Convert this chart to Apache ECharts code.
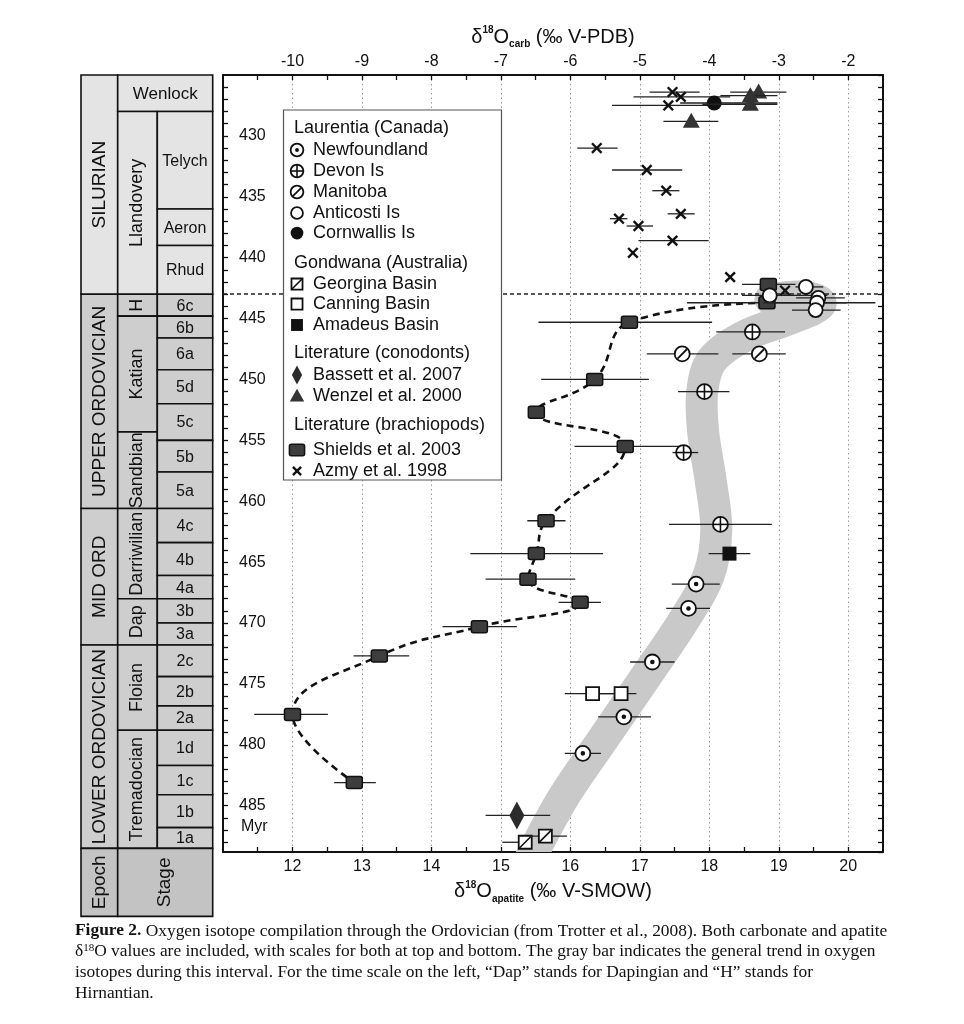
<!DOCTYPE html>
<html><head><meta charset="utf-8">
<script src="https://cdn.jsdelivr.net/npm/echarts/dist/echarts.min.js"></script>
<style>html,body{margin:0;padding:0;background:#fff}#c{width:964px;height:1024px}</style>
</head><body><div id="c"></div>
<script>
// ================= DATA =================
const ageTicks = [430,435,440,445,450,455,460,465,470,475,480,485];
const apatiteTicks = [12,13,14,15,16,17,18,19,20];
const carbTicks = [-10,-9,-8,-7,-6,-5,-4,-3,-2];

// Stratigraphic column (ages in Myr)
const epochNames = ['SILURIAN','UPPER ORDOVICIAN','MID ORD','LOWER ORDOVICIAN'];
const epochBounds = [425, 443.0, 460.6, 471.8, 488.5];
const seriesNames = ['Wenlock','Llandovery','H','Katian','Sandbian','Darriwilian','Dap','Floian','Tremadocian'];
const seriesBounds = [425, 428.0, 443.0, 444.8, 454.3, 460.6, 468.0, 471.8, 478.8, 488.5];
const stageNames = ['Telych','Aeron','Rhud','6c','6b','6a','5d','5c','5b','5a','4c','4b','4a','3b','3a','2c','2b','2a','1d','1c','1b','1a'];
const stageBounds = [428.0,436.0,439.0,443.0,444.8,446.6,449.2,452.0,455.0,457.6,460.6,463.4,466.1,468.0,470.0,471.8,474.4,476.8,478.8,481.7,484.1,486.8,488.5];
const boundaryAge = 443.0;

// [δ18O, age, errLow, errHigh]  apatite (‰ V-SMOW)
const newfoundland = [[17.81,466.8,17.46,18.15],[17.70,468.8,17.38,18.01],[17.18,473.2,16.86,17.50],[16.77,477.7,16.40,17.16],[16.18,480.7,15.92,16.44]];
const devon = [[18.62,446.1,18.10,19.09],[17.93,451.0,17.55,18.29],[17.63,456.0,17.47,17.84],[18.16,461.9,17.42,18.90]];
const manitoba = [[17.61,447.9,17.10,18.13],[18.72,447.9,18.33,19.10]];
const anticosti = [[19.39,442.4,19.24,19.64],[18.87,443.1,18.47,19.70],[19.57,443.3,19.25,19.95],[19.55,443.7,18.78,20.39],[19.53,444.3,19.19,19.89]];
const cornwallis = [[18.07,427.3,17.58,18.98]];
const georgina = [[15.35,488.0,15.02,15.45],[15.64,487.5,15.42,15.95]];
const canning = [[16.32,475.8,15.92,16.72],[16.73,475.8,16.43,16.95]];
const amadeus = [[18.29,464.3,17.99,18.59]];
const bassett = [[15.23,485.8,14.78,15.71]];
const wenzel = [[18.71,426.4,18.30,19.11],[18.59,426.7,18.16,18.98],[18.59,427.4,17.90,18.98],[17.74,428.8,17.34,18.13]];
// carbonate (‰ V-PDB)
const shields = [[-3.15,442.2,-3.53,-2.76],[-3.17,443.7,-4.32,-2.02],[-5.15,445.3,-6.46,-3.96],[-5.65,450.0,-6.42,-4.87],[-6.49,452.7,null,null],[-5.21,455.5,-5.94,-4.39],[-6.35,461.6,-6.62,-6.07],[-6.49,464.3,-7.44,-5.53],[-6.61,466.4,-7.22,-5.93],[-5.86,468.3,-6.17,-5.56],[-7.31,470.3,-7.84,-6.77],[-8.75,472.7,-9.12,-8.32],[-10.00,477.5,-10.55,-9.49],[-9.11,483.1,-9.40,-8.80]];
const azmy = [[-4.53,426.4,-4.86,-4.14],[-4.41,426.8,-5.09,-3.70],[-4.59,427.5,-5.40,-3.93],[-5.62,431.0,-5.90,-5.32],[-4.90,432.8,-5.40,-4.39],[-4.62,434.5,-4.82,-4.43],[-4.41,436.4,-4.60,-4.21],[-5.30,436.8,-5.43,-5.18],[-5.02,437.4,-5.19,-4.81],[-4.53,438.6,-5.02,-4.01],[-5.10,439.6,null,null],[-3.70,441.6,null,null],[-2.91,442.7,null,null]];
// gray trend bar (apatite)
const trendVal = [18.88,19.38,19.60,19.17,18.52,18.04,17.90,17.91,18.02,18.10,17.99,17.63,17.05,16.46,15.88,15.40];
const trendAge = [443.4,443.2,443.8,445.0,446.4,448.4,450.9,454.2,458.3,462.4,466.1,469.8,474.7,479.6,484.5,489.6];

// ================= DRAWING =================
const FS = '"Liberation Sans", Arial, Helvetica, sans-serif';
const SERIF = '"Liberation Serif", "Times New Roman", serif';
const K = '#111';

function marker(type, cx, cy, s) {
  const r = 7.5 * s;
  const circ = (rr, fill) => ({type:'circle', shape:{cx, cy, r:rr}, style:{fill, stroke:K, lineWidth:1.8}});
  const ln = (x1,y1,x2,y2,w) => ({type:'line', shape:{x1,y1,x2,y2}, style:{stroke:K, lineWidth:w||1.6}});
  switch (type) {
    case 'newf': return [circ(r,'#fff'), {type:'circle', shape:{cx, cy, r:2.3*s}, style:{fill:K}}];
    case 'devon': return [circ(r,'#fff'), ln(cx-r,cy,cx+r,cy), ln(cx,cy-r,cx,cy+r)];
    case 'manitoba': return [circ(r,'#fff'), ln(cx-r*0.62,cy+r*0.62,cx+r*0.62,cy-r*0.62,1.8)];
    case 'anticosti': return [circ(7*s,'#fff')];
    case 'cornwallis': return [{type:'circle', shape:{cx, cy, r}, style:{fill:K}}];
    case 'georgina': { const h = 6.5*s; return [{type:'rect', shape:{x:cx-h, y:cy-h, width:2*h, height:2*h}, style:{fill:'#fff', stroke:K, lineWidth:1.8}}, ln(cx-h,cy+h,cx+h,cy-h,1.6)]; }
    case 'canning': { const h = 6.5*s; return [{type:'rect', shape:{x:cx-h, y:cy-h, width:2*h, height:2*h}, style:{fill:'#fff', stroke:K, lineWidth:1.8}}]; }
    case 'amadeus': { const h = 7*s; return [{type:'rect', shape:{x:cx-h, y:cy-h, width:2*h, height:2*h}, style:{fill:K}}]; }
    case 'bassett': return [{type:'polygon', shape:{points:[[cx,cy-14*s],[cx+7.5*s,cy],[cx,cy+14*s],[cx-7.5*s,cy]]}, style:{fill:'#2b2b2b'}}];
    case 'wenzel': return [{type:'polygon', shape:{points:[[cx,cy-8.5*s],[cx+8.5*s,cy+6.5*s],[cx-8.5*s,cy+6.5*s]]}, style:{fill:'#333'}}];
    case 'shields': return [{type:'rect', shape:{x:cx-8*s, y:cy-6*s, width:16*s, height:12*s, r:2}, style:{fill:'#3d3d3d', stroke:K, lineWidth:1.5}}];
    case 'azmy': { const d = 4.8*s; return [ln(cx-d,cy-d,cx+d,cy+d,2.4), ln(cx-d,cy+d,cx+d,cy-d,2.4)]; }
  }
  return [];
}

function pointSeries(name, type, data, xIdx, z) {
  return {
    type:'custom', name, xAxisIndex:xIdx, yAxisIndex:0, z,
    encode:{x:0, y:1},
    data: data.map(d => [d[0], d[1], d[2] == null ? d[0] : d[2], d[3] == null ? d[0] : d[3]]),
    renderItem: (params, api) => {
      const x = api.value(0), a = api.value(1), lo = api.value(2), hi = api.value(3);
      const c = api.coord([x, a]);
      const ch = [];
      if (lo !== hi) {
        const p0 = api.coord([lo, a]), p1 = api.coord([hi, a]);
        ch.push({type:'line', shape:{x1:p0[0], y1:p0[1], x2:p1[0], y2:p1[1]}, style:{stroke:'#222', lineWidth:1.3}});
      }
      return {type:'group', children: ch.concat(marker(type, c[0], c[1], 1))};
    }
  };
}

// stratigraphic column cells
const colX = [0, 36.7, 76.3, 131.7];
const cells = [];
epochNames.forEach((n,i) => cells.push({c0:0, c1:1, a0:epochBounds[i], a1:epochBounds[i+1], text:n, rot:true, size:19}));
seriesNames.forEach((n,i) => { const wide = (i === 0); cells.push({c0:1, c1:wide?3:2, a0:seriesBounds[i], a1:seriesBounds[i+1], text:n, rot:!wide, size:wide?17:18}); });
stageNames.forEach((n,i) => cells.push({c0:2, c1:3, a0:stageBounds[i], a1:stageBounds[i+1], text:n, rot:false, size:16}));
cells.push({c0:0, c1:1, header:true, text:'Epoch', rot:true, size:19});
cells.push({c0:1, c1:3, header:true, text:'Stage', rot:true, size:19});
const lastAge = epochBounds[epochBounds.length-1];

const columnSeries = {
  type:'custom', xAxisIndex:3, yAxisIndex:2, z:2, silent:true,
  encode:{x:0, y:1},
  data: cells.map(c => [(colX[c.c0]+colX[c.c1])/2, c.header ? lastAge : (c.a0+c.a1)/2]),
  renderItem: (params, api) => {
    const c = cells[params.dataIndex];
    const xL = api.coord([colX[c.c0], 430])[0], xR = api.coord([colX[c.c1], 430])[0];
    let yT, yB, fill;
    if (c.header) { yT = api.coord([0, lastAge])[1]; yB = yT + 68; fill = '#c3c3c3'; }
    else { yT = api.coord([0, c.a0])[1]; yB = api.coord([0, c.a1])[1]; fill = c.a1 <= boundaryAge ? '#e4e4e4' : '#cecece'; }
    return {type:'group', children:[
      {type:'rect', shape:{x:xL, y:yT, width:xR-xL, height:yB-yT}, style:{fill, stroke:K, lineWidth:1.6}},
      {type:'text', x:(xL+xR)/2, y:(yT+yB)/2 + (c.rot ? 0 : 1), rotation: c.rot ? Math.PI/2 : 0,
       style:{text:c.text, align:'center', verticalAlign:'middle', fill:K, font: c.size + 'px ' + FS}}
    ]};
  }
};

// gray trend band: one polyline through the trend points, clipped to the plot area
const bandSeries = {
  type:'custom', xAxisIndex:0, yAxisIndex:0, z:1, silent:true,
  encode:{x:0, y:1},
  data:[[trendVal[0], trendAge[0]]],
  renderItem: (params, api) => {
    const pts = trendVal.map((v,i) => api.coord([v, trendAge[i]]));
    const cs = params.coordSys;
    return {type:'polyline', shape:{points:pts, smooth:0.35},
      style:{stroke:'#c9c9c9', fill:null, lineWidth:32, lineCap:'round', lineJoin:'round'},
      clipPath:{type:'rect', shape:{x:cs.x, y:cs.y, width:cs.width, height:cs.height}}};
  }
};

// legend (drawn as graphic)
const legendRows = [
  {h:'Laurentia (Canada)', y:128}, {m:'newf', t:'Newfoundland', y:150}, {m:'devon', t:'Devon Is', y:171},
  {m:'manitoba', t:'Manitoba', y:192}, {m:'anticosti', t:'Anticosti Is', y:213}, {m:'cornwallis', t:'Cornwallis Is', y:233},
  {h:'Gondwana (Australia)', y:263}, {m:'georgina', t:'Georgina Basin', y:284}, {m:'canning', t:'Canning Basin', y:304},
  {m:'amadeus', t:'Amadeus Basin', y:325}, {h:'Literature (conodonts)', y:353}, {m:'bassett', t:'Bassett et al. 2007', y:375, s:0.68},
  {m:'wenzel', t:'Wenzel et al. 2000', y:396}, {h:'Literature (brachiopods)', y:425}, {m:'shields', t:'Shields et al. 2003', y:450, s:0.95},
  {m:'azmy', t:'Azmy et al. 1998', y:471}
];
const legendEls = [{type:'rect', shape:{x:283.5, y:110, width:218, height:370}, style:{fill:'#fff', stroke:'#555', lineWidth:1.2}}];
legendRows.forEach(r => {
  if (r.h) legendEls.push({type:'text', x:294, y:r.y, style:{text:r.h, font:'18px ' + FS, fill:K, align:'left', verticalAlign:'middle'}});
  else {
    marker(r.m, 297, r.y, r.s || 0.85).forEach(e => legendEls.push(e));
    legendEls.push({type:'text', x:313, y:r.y, style:{text:r.t, font:'18px ' + FS, fill:K, align:'left', verticalAlign:'middle'}});
  }
});
legendEls.forEach(e => { e.z = 100; });

const capRich = {
  b:{fontFamily:SERIF, fontSize:17.4, fontWeight:'bold', color:K},
  n:{fontFamily:SERIF, fontSize:17.4, color:K},
  sup:{fontFamily:SERIF, fontSize:11, color:K, verticalAlign:'top', lineHeight:11}
};
const captionLines = [
  '{b|Figure 2.}{n| Oxygen isotope compilation through the Ordovician (from Trotter et al., 2008). Both carbonate and apatite}',
  '{n|δ}{sup|18}{n|O values are included, with scales for both at top and bottom. The gray bar indicates the general trend in oxygen}',
  '{n|isotopes during this interval. For the time scale on the left, “Dap” stands for Dapingian and “H” stands for}',
  '{n|Hirnantian.}'
];
const captionY = [931, 951, 972, 993];
const captionEls = captionLines.map((t,i) => ({type:'text', x:75, y:captionY[i], z:100,
  style:{text:t, rich:capRich, align:'left', verticalAlign:'middle', fill:K, font:'17.4px ' + SERIF}}));

const nameRich = {
  b:{fontFamily:FS, fontSize:20, color:K, lineHeight:24},
  sup:{fontFamily:FS, fontSize:10, color:K, verticalAlign:'top', lineHeight:12, fontWeight:'bold'},
  sub:{fontFamily:FS, fontSize:10, color:K, verticalAlign:'bottom', lineHeight:10, fontWeight:'bold'}
};
const isTick = (v, arr) => arr.some(t => Math.abs(v - t) < 1e-6);
const axLine = {show:true, onZero:false, lineStyle:{color:K, width:2}};
const axTick = {show:true, inside:true, length:5, lineStyle:{color:K, width:1.3}};
const axLabel = {color:K, fontFamily:FS, fontSize:16};

const option = {
  animation:false,
  backgroundColor:'#fff',
  grid:[
    {left:223, right:81, top:75, bottom:172},
    {left:81, width:131.7, top:75, bottom:172}
  ],
  xAxis:[
    {gridIndex:0, type:'value', position:'bottom', min:11, max:20.5, interval:0.5,
     axisLine:axLine, axisTick:axTick, splitLine:{show:false},
     axisLabel:Object.assign({}, axLabel, {margin:7, showMinLabel:false, showMaxLabel:false, formatter:v => isTick(v, apatiteTicks) ? String(Math.round(v)) : ''}),
     name:'{b|δ}{sup|18}{b|O}{sub|apatite}{b| (‰ V-SMOW)}', nameLocation:'middle', nameGap:27,
     nameTextStyle:{rich:nameRich}},
    {gridIndex:0, type:'value', position:'top', min:-11, max:-1.5, interval:0.5,
     axisLine:axLine, axisTick:axTick, splitLine:{show:false},
     axisLabel:Object.assign({}, axLabel, {margin:5, showMinLabel:false, showMaxLabel:false, formatter:v => isTick(v, carbTicks) ? String(Math.round(v)) : ''}),
     name:'{b|δ}{sup|18}{b|O}{sub|carb}{b| (‰ V-PDB)}', nameLocation:'middle', nameGap:24,
     nameTextStyle:{rich:nameRich}},
    {gridIndex:0, type:'value', position:'bottom', min:11, max:20.5, interval:1,
     axisLine:{show:false}, axisTick:{show:false}, axisLabel:{show:false},
     splitLine:{show:true, lineStyle:{color:'#9a9a9a', width:1, type:[1.5,3]}}},
    {gridIndex:1, type:'value', min:0, max:131.7, show:false}
  ],
  yAxis:[
    {gridIndex:0, type:'value', inverse:true, position:'left', min:425, max:488.8, interval:1,
     axisLine:axLine, axisTick:axTick, splitLine:{show:false},
     axisLabel:Object.assign({}, axLabel, {inside:true, margin:16, showMinLabel:false, showMaxLabel:false, formatter:v => isTick(v, ageTicks) ? String(Math.round(v)) : ''})},
    {gridIndex:0, type:'value', inverse:true, position:'right', min:425, max:488.8, interval:1,
     axisLine:axLine, axisTick:axTick, axisLabel:{show:false}, splitLine:{show:false}},
    {gridIndex:1, type:'value', inverse:true, min:425, max:488.8, show:false}
  ],
  series:[
    columnSeries,
    bandSeries,
    {type:'line', name:'shieldsTrend', xAxisIndex:1, yAxisIndex:0, z:3, silent:true, smooth:0.45, symbol:'none',
     data: shields.slice(1).map(d => [d[0], d[1]]),
     lineStyle:{width:2.6, color:K, type:[7,5]},
     markLine:{silent:true, symbol:'none', label:{show:false}, animation:false,
       lineStyle:{type:[4,3], color:'#222', width:1.6}, data:[{yAxis:boundaryAge}]}},
    pointSeries('Shields et al. 2003','shields',shields,1,5),
    pointSeries('Azmy et al. 1998','azmy',azmy,1,5),
    pointSeries('Newfoundland','newf',newfoundland,0,6),
    pointSeries('Devon Is','devon',devon,0,6),
    pointSeries('Manitoba','manitoba',manitoba,0,6),
    pointSeries('Anticosti Is','anticosti',anticosti,0,7),
    pointSeries('Cornwallis Is','cornwallis',cornwallis,0,6),
    pointSeries('Georgina Basin','georgina',georgina,0,6),
    pointSeries('Canning Basin','canning',canning,0,6),
    pointSeries('Amadeus Basin','amadeus',amadeus,0,6),
    pointSeries('Bassett et al. 2007','bassett',bassett,0,6),
    pointSeries('Wenzel et al. 2000','wenzel',wenzel,0,6)
  ],
  graphic: legendEls.concat(captionEls).concat([
    {type:'text', x:241, y:827, z:100, style:{text:'Myr', font:'16px ' + FS, fill:K, align:'left', verticalAlign:'middle'}}
  ])
};

const chart = echarts.init(document.getElementById('c'), null, {renderer:'canvas'});
chart.setOption(option);
</script></body></html>
